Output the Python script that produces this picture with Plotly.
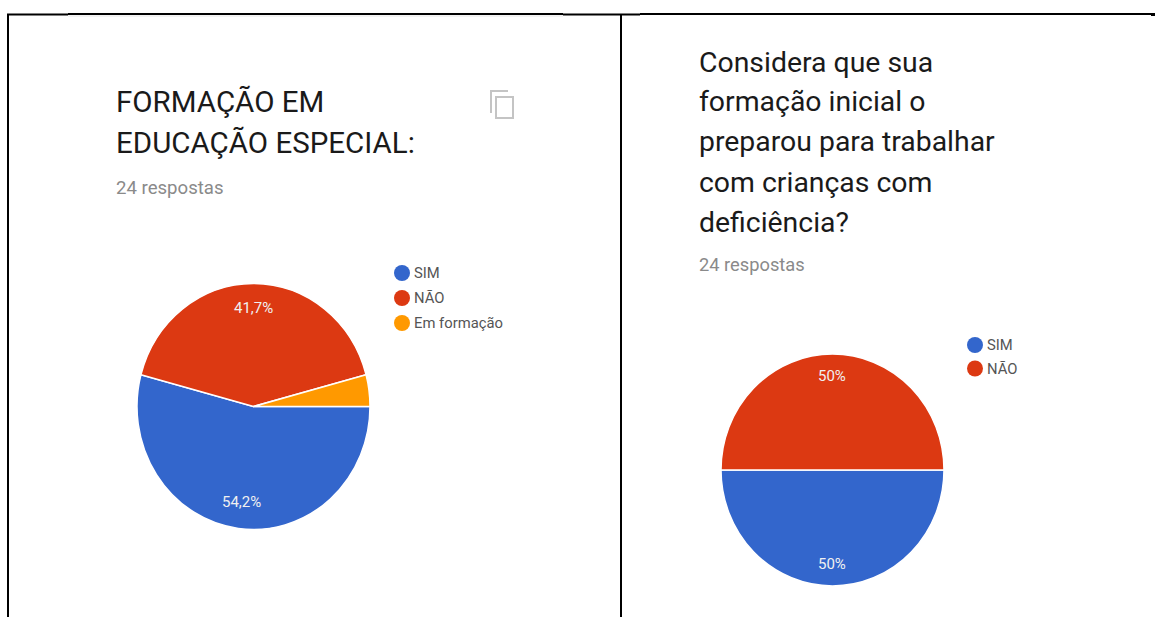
import plotly.graph_objects as go

W, H = 1155, 617

# Survey answers (out of 24 responses)
labels_a = ["SIM", "NÃO", "Em formação"]
values_a = [13, 10, 1]
labels_b = ["SIM", "NÃO"]
values_b = [12, 12]
colors = ["#3366CC", "#DC3912", "#FF9900"]
title_a = ["FORMAÇÃO EM", "EDUCAÇÃO ESPECIAL:"]
title_b = ["Considera que sua", "formação inicial o", "preparou para trabalhar",
           "com crianças com", "deficiência?"]
subtitle = "24 respostas"

# Pie geometry: centre, horizontal radius, vertical radius
pie_a = (253.5, 406.5, 116.5, 123)
pie_b = (832.5, 470, 111.5, 116)


def px(x):
    return x / W


def py(y):
    return 1 - y / H


def pct(v, values):
    s = f"{100 * v / sum(values):.1f}"
    if s.endswith(".0"):
        s = s[:-2]
    return s.replace(".", ",") + "%"


def pie(labels, values, geom):
    cx, cy, r, _ = geom
    return go.Pie(
        labels=labels, values=values, sort=False, direction="clockwise", rotation=90,
        marker=dict(colors=colors[:len(values)], line=dict(color="#FFFFFF", width=1.5)),
        textinfo="none", hoverinfo="label+percent", showlegend=False,
        domain=dict(x=[px(cx - r), px(cx + r)], y=[py(cy + r), py(cy - r)]),
    )


fig = go.Figure([pie(labels_a, values_a, pie_a), pie(labels_b, values_b, pie_b)])

annotations, shapes = [], []


def text(x, y, s, size, color):
    annotations.append(dict(
        x=px(x), y=py(y), xref="paper", yref="paper", text=s, showarrow=False,
        xanchor="left", yanchor="middle", align="left",
        font=dict(family="Roboto", size=size, color=color),
    ))


def value_label(x, y, s):
    annotations.append(dict(
        x=px(x), y=py(y), xref="paper", yref="paper", text=s, showarrow=False,
        xanchor="center", yanchor="middle",
        font=dict(family="Roboto", size=15, color="#F0F0F0"),
    ))


def line(x0, y0, x1, y1, color="#000000", width=2):
    shapes.append(dict(type="line", xref="paper", yref="paper",
                       x0=px(x0), y0=py(y0), x1=px(x1), y1=py(y1),
                       line=dict(color=color, width=width)))


# Table borders around the two cells
line(68, 16, 563, 16, "#F2F2F2", 2)
line(7, 14.5, 68, 14.5)
line(68, 14, 563, 14)
line(563, 14.5, 640, 14.5)
line(640, 14, 1151, 14)
line(1151, 14.5, 1155, 14.5, "#000000", 3)
line(8, 14, 8, H)
line(621, 14, 621, H)

# Headings
for i, s in enumerate(title_a):
    text(114, 102 + 41 * i, s, 29.5, "#1A1A1A")
text(114, 188, subtitle, 18.6, "#8A8A8A")
for i, s in enumerate(title_b):
    text(697, 62 + 40 * i, s, 28.4, "#1A1A1A")
text(697, 264, subtitle, 18.3, "#8A8A8A")

# Copy icon
line(491, 91, 491, 113, "#C4C4C4", 2)
line(490, 91, 508, 91, "#C4C4C4", 2)
shapes.append(dict(type="rect", xref="paper", yref="paper",
                   x0=px(496), x1=px(513), y0=py(118), y1=py(97),
                   line=dict(color="#C4C4C4", width=2)))

# Legends
for (lx, ly0, names) in [(402, 273, labels_a), (975, 345, labels_b)]:
    step = 25 if len(names) == 3 else 23.5
    for i, name in enumerate(names):
        y = ly0 + step * i
        shapes.append(dict(type="circle", xref="paper", yref="paper",
                           x0=px(lx - 8), x1=px(lx + 8), y0=py(y + 8), y1=py(y - 8),
                           fillcolor=colors[i], line=dict(width=0)))
        text(lx + 10, y, name, 14.8, "#555555")

# Percentage labels
value_label(253.5, 308, pct(values_a[1], values_a))
value_label(241.5, 502, pct(values_a[0], values_a))
value_label(832, 376, pct(values_b[1], values_b))
value_label(832, 564, pct(values_b[0], values_b))

fig.update_layout(width=W, height=H, margin=dict(l=0, r=0, t=0, b=0),
                  paper_bgcolor="#FFFFFF", plot_bgcolor="#FFFFFF",
                  annotations=annotations, shapes=shapes)

# The pies are slightly taller than wide: stretch each one vertically about its centre
stretch_js = """
var gd = document.querySelector('.js-plotly-plot');
var pies = gd.querySelectorAll('.pielayer .trace');
var geom = %s;
pies.forEach(function (el, i) {
  var cy = geom[i][0], s = geom[i][1];
  el.setAttribute('transform', 'translate(0,' + cy + ') scale(1,' + s + ') translate(0,' + (-cy) + ')');
});
""" % [[pie_a[1], pie_a[3] / pie_a[2]], [pie_b[1], pie_b[3] / pie_b[2]]]

fig.write_html("out.html", post_script=stretch_js)
